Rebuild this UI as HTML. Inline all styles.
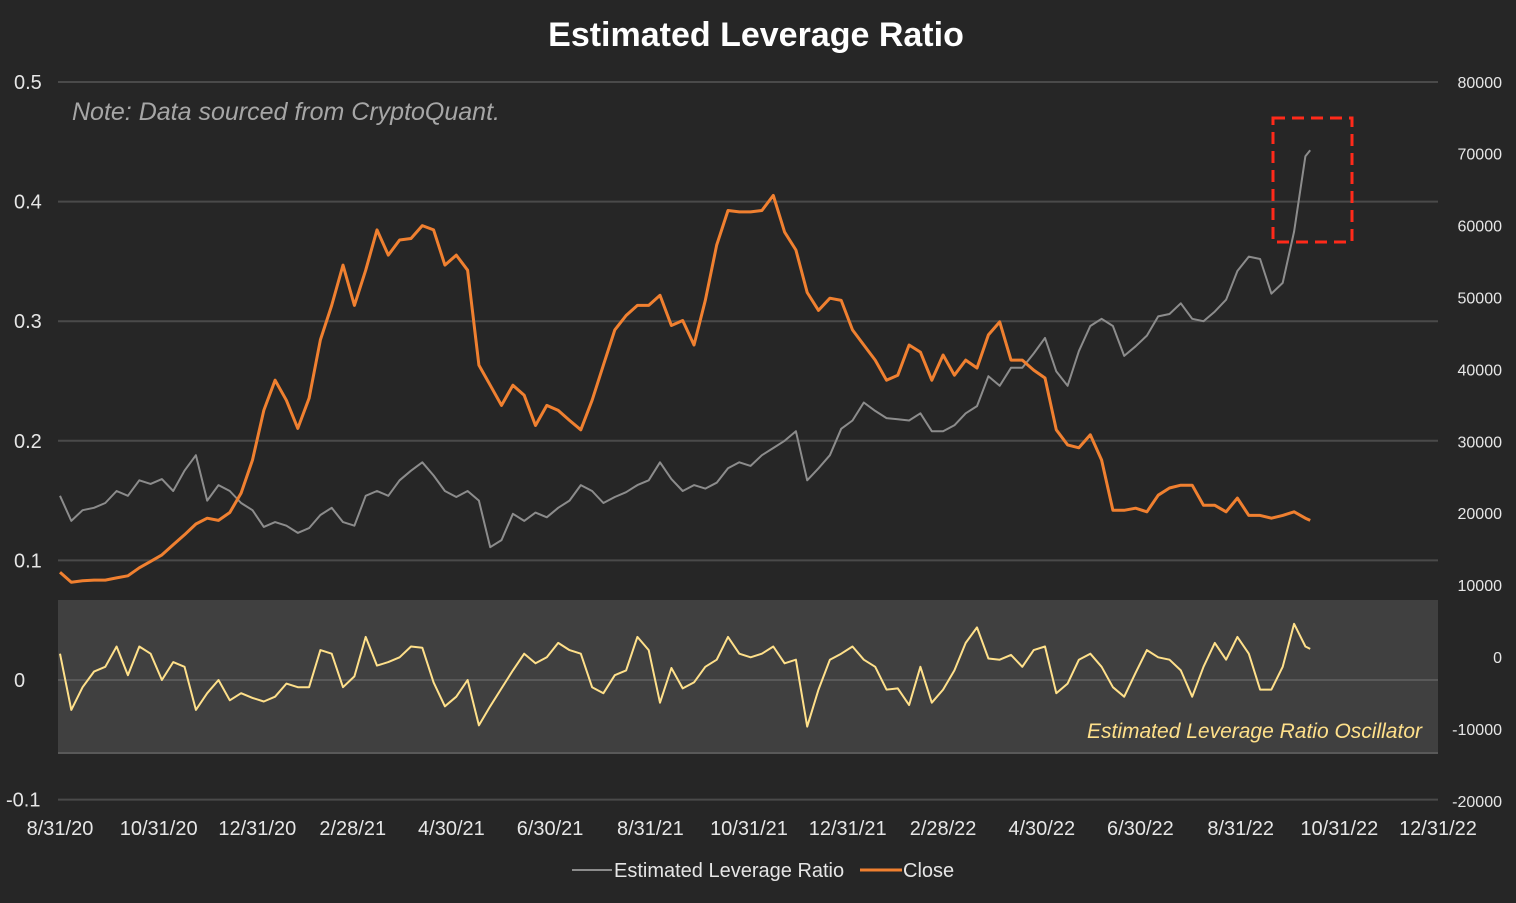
<!DOCTYPE html>
<html><head><meta charset="utf-8"><style>
html,body{margin:0;padding:0;background:#262626;}
svg text{font-family:"Liberation Sans Narrow","Liberation Sans",sans-serif;}
</style></head><body>
<svg id="chart" width="1516" height="898" viewBox="0 0 1516 898" xmlns="http://www.w3.org/2000/svg">
<rect x="0" y="0" width="1516" height="898" fill="#262626"/>
<text x="756" y="46" text-anchor="middle" font-size="34" font-weight="bold" fill="#ffffff" style="font-family:'Liberation Sans',sans-serif">Estimated Leverage Ratio</text>
<rect x="58" y="600" width="1380" height="153" fill="#404040"/>
<g id="grid"></g>
<g id="yleft"></g>
<g id="yright"></g>
<g id="xaxis"></g>
<g id="series"></g>
<text x="72" y="120" font-size="25" font-style="italic" fill="#a6a6a6">Note: Data sourced from CryptoQuant.</text>
<text x="1422" y="738" text-anchor="end" font-size="21" font-style="italic" fill="#ffe08a">Estimated Leverage Ratio Oscillator</text>
<rect x="1273" y="118" width="79" height="124" fill="none" stroke="#ff2a1a" stroke-width="3" stroke-dasharray="12,7"/>
<g>
<line x1="572" y1="870" x2="612" y2="870" stroke="#8c8c8c" stroke-width="2"/>
<text x="614" y="877" font-size="20" fill="#e6e6e6">Estimated Leverage Ratio</text>
<line x1="860" y1="870" x2="902" y2="870" stroke="#f08030" stroke-width="3"/>
<text x="903" y="877" font-size="20" fill="#e6e6e6">Close</text>
</g>
</svg>
<script>
const leftTicks=[0.5,0.4,0.3,0.2,0.1,0,-0.1];
const leftTickLabels=["0.5","0.4","0.3","0.2","0.1","0","-0.1"];
const rightTicks=[80000,70000,60000,50000,40000,30000,20000,10000,0,-10000,-20000];
const xTickDays=[0,61,122,181,242,303,365,426,487,546,607,668,730,791,852];
const xTickLabels=["8/31/20","10/31/20","12/31/20","2/28/21","4/30/21","6/30/21","8/31/21","10/31/21","12/31/21","2/28/22","4/30/22","6/30/22","8/31/22","10/31/22","12/31/22"];
const closeValues=[11800,10400,10600,10700,10700,11000,11300,12400,13300,14200,
15600,17000,18500,19300,19000,20100,22800,27400,34300,38500,
35700,31800,36000,44100,48900,54500,48900,53800,59400,55900,
58000,58200,60000,59400,54500,55900,53800,40600,37800,35000,
37800,36400,32200,35000,34300,32900,31600,35700,40600,45500,
47500,48900,48900,50300,46100,46800,43400,49600,57300,62100,
61900,61900,62100,64200,59100,56600,50700,48200,49900,49600,
45500,43400,41300,38500,39200,43400,42400,38500,42000,39200,
41300,40200,44800,46600,41300,41300,39900,38800,31600,29500,
29100,30900,27400,20400,20400,20700,20200,22500,23500,23900,
23900,21100,21100,20200,22100,19700,19700,19300,19700,20200,19300,19000];
const leverageValues=[.154,.133,.142,.144,.148,.158,.154,.167,.164,.168,
.158,.175,.188,.150,.163,.158,.148,.142,.128,.132,
.129,.123,.127,.138,.144,.132,.129,.154,.158,.154,
.167,.175,.182,.171,.158,.153,.158,.150,.111,.117,
.139,.133,.140,.136,.144,.150,.163,.158,.148,.153,
.157,.163,.167,.182,.168,.158,.163,.160,.165,.177,
.182,.179,.188,.194,.200,.208,.167,.177,.188,.210,
.217,.232,.225,.219,.218,.217,.223,.208,.208,.213,
.223,.229,.254,.246,.261,.261,.273,.286,.258,.246,
.275,.296,.302,.296,.271,.279,.288,.304,.306,.315,
.302,.300,.308,.318,.342,.354,.352,.323,.332,.375,.438,.443];
const oscillatorValues=[.022,-.025,-.006,.007,.011,.028,.004,.028,.022,0,
.015,.011,-.025,-.011,0,-.017,-.011,-.015,-.018,-.014,
-.003,-.006,-.006,.025,.022,-.006,.003,.036,.012,.015,
.019,.028,.027,-.002,-.022,-.014,0,-.038,-.022,-.007,
.008,.022,.014,.019,.031,.025,.022,-.006,-.011,.004,
.008,.036,.025,-.019,.010,-.007,-.002,.011,.017,.036,
.022,.019,.022,.028,.014,.017,-.039,-.008,.017,.022,
.028,.017,.011,-.008,-.007,-.021,.011,-.019,-.008,.008,
.031,.044,.018,.017,.021,.011,.025,.028,-.011,-.003,
.017,.022,.011,-.006,-.014,.006,.025,.019,.017,.008,
-.014,.011,.031,.017,.036,.022,-.008,-.008,.011,.047,.028,.026];
const weekStepDays=7;
const lastDay=773;

const NS="http://www.w3.org/2000/svg";
const X0=60,X1=1438,D1=852;
function xScale(d){return X0+(d/D1)*(X1-X0);}
function yLeft(v){return 680-v*1196;}
function yRight(v){return 657-v*0.00719;}
function dayOf(i,n){return i===n-1?lastDay:i*weekStepDays;}
function mk(tag,attrs,parent){const e=document.createElementNS(NS,tag);for(const k in attrs)e.setAttribute(k,attrs[k]);parent.appendChild(e);return e;}

const grid=document.getElementById('grid');
leftTicks.forEach((t,i)=>{
  if(t===0.1&&false)return;
  const l=mk('line',{x1:58,x2:1438,y1:yLeft(t),y2:yLeft(t),stroke:(t===0?'#595959':'#4a4a4a'),'stroke-width':2},grid);
  
  
});
const bl=mk('line',{x1:58,x2:1438,y1:753,y2:753,stroke:'#595959','stroke-width':2},grid);



const yl=document.getElementById('yleft');
leftTicks.forEach((t,i)=>{
  const tx=mk('text',{x:i===6?6:14,y:yLeft(t)+7,'font-size':20,fill:'#e6e6e6'},yl);
  tx.textContent=leftTickLabels[i];
  
  
});
const yr=document.getElementById('yright');
rightTicks.forEach(t=>{
  const tx=mk('text',{x:1502,y:yRight(t)+6,'font-size':16,fill:'#e6e6e6','text-anchor':'end'},yr);
  tx.textContent=String(t);
  
  
});
const xa=document.getElementById('xaxis');
xTickDays.forEach((d,i)=>{
  const tx=mk('text',{x:xScale(d),y:835,'font-size':20,fill:'#e6e6e6','text-anchor':'middle'},xa);
  tx.textContent=xTickLabels[i];
  
  
});

function line(vals,ys,color,w,name){
  const pts=vals.map((v,i)=>xScale(dayOf(i,vals.length)).toFixed(1)+','+ys(v).toFixed(1)).join(' ');
  const p=mk('polyline',{points:pts,fill:'none',stroke:color,'stroke-width':w,'stroke-linejoin':'round'},document.getElementById('series'));
  
  
}
line(oscillatorValues,yLeft,'#ffe08a',2,'oscillator-line');
line(leverageValues,yLeft,'#8c8c8c',2,'leverage-ratio-line');
line(closeValues,yRight,'#f08030',3,'close-price-line');
</script>
</body></html>
